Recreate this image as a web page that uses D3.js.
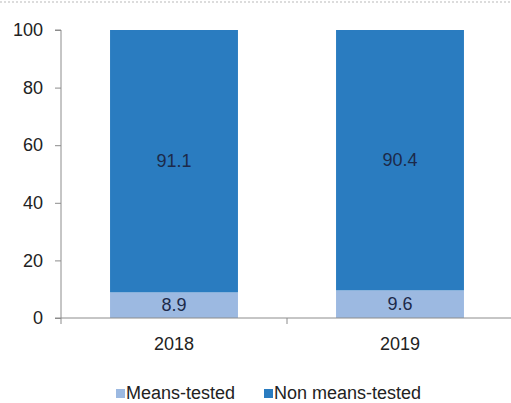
<!DOCTYPE html>
<html>
<head>
<meta charset="utf-8">
<script src="https://cdn.jsdelivr.net/npm/d3@7"></script>
<style>
  html, body { margin: 0; padding: 0; background: #ffffff; }
  svg { display: block; font-family: "Liberation Sans", Arial, sans-serif; }
</style>
</head>
<body>
<svg id="chart" width="511" height="403"></svg>
<script>
// Share of benefits by type, percent
const years = ["2018", "2019"];
const meansTested = [8.9, 9.6];
const nonMeansTested = [91.1, 90.4];
const yTicks = [0, 20, 40, 60, 80, 100];
const seriesNames = ["Means-tested", "Non means-tested"];
const seriesColors = ["#9cb9e1", "#2a7cc0"];

const svg = d3.select("#chart");
const margin = { left: 61, right: -2, top: 30, bottom: 85 };
const W = 511, H = 403;
const FS = 18;

const x = d3.scaleBand().domain(years).range([margin.left, W - margin.right])
  .paddingInner(0.434).paddingOuter(0.217);
const y = d3.scaleLinear().domain([0, 100]).range([H - margin.bottom, margin.top]);

// faint dotted rule along the top edge
svg.append("line").attr("x1", 0).attr("x2", W).attr("y1", 2).attr("y2", 2)
  .attr("stroke", "#dcdcdc").attr("stroke-width", 2).attr("stroke-dasharray", "2,2");

const rows = years.map((yr, i) => ({ year: yr, values: [meansTested[i], nonMeansTested[i]] }));
const stack = d3.stack().keys([0, 1]).value((d, k) => d.values[k]);
const layers = stack(rows);

layers.forEach((layer, k) => {
  svg.append("g").selectAll("rect").data(layer).join("rect")
    .attr("x", d => x(d.data.year))
    .attr("width", x.bandwidth())
    .attr("y", d => y(d[1]))
    .attr("height", d => y(d[0]) - y(d[1]))
    .attr("fill", seriesColors[k]);
  svg.append("g").selectAll("text").data(layer).join("text")
    .attr("x", d => x(d.data.year) + x.bandwidth() / 2)
    .attr("y", d => y((d[0] + d[1]) / 2))
    .attr("dy", "0.35em")
    .attr("text-anchor", "middle")
    .attr("font-size", FS)
    .attr("fill", "#1c2a4a")
    .text(d => d3.format(".1f")(d[1] - d[0]));
});

// y axis
const yAxis = svg.append("g").attr("transform", `translate(${margin.left},0)`)
  .call(d3.axisLeft(y).tickValues(yTicks).tickSize(6).tickPadding(12));
yAxis.select(".domain").attr("stroke", "#8c8c8c").attr("d", `M-6,${y(100)}H0V${y(0)}`);
yAxis.selectAll(".tick line").attr("stroke", "#8c8c8c");
yAxis.selectAll(".tick text").attr("font-size", FS).attr("fill", "#222")
  .attr("font-family", "'Liberation Sans', Arial, sans-serif");

// x axis with category boundary ticks
const xAxisG = svg.append("g").attr("transform", `translate(0,${y(0)})`);
xAxisG.append("line").attr("x1", margin.left - 6).attr("x2", W)
  .attr("stroke", "#8c8c8c");
const step = x.step();
const boundaries = [margin.left, margin.left + step];
xAxisG.selectAll("line.tk").data(boundaries).join("line").attr("class", "tk")
  .attr("x1", d => d).attr("x2", d => d).attr("y1", 0).attr("y2", 6)
  .attr("stroke", "#8c8c8c");
xAxisG.selectAll("text").data(years).join("text")
  .attr("x", d => x(d) + x.bandwidth() / 2)
  .attr("y", 32)
  .attr("text-anchor", "middle")
  .attr("font-size", FS)
  .attr("fill", "#222")
  .text(d => d);

// legend
const legendX = [116, 264];
const legend = svg.append("g").selectAll("g").data(seriesNames).join("g")
  .attr("transform", (d, i) => `translate(${legendX[i]},389)`);
legend.append("rect").attr("x", 0).attr("y", 0).attr("width", 9).attr("height", 9)
  .attr("fill", (d, i) => seriesColors[i]);
legend.append("text").attr("x", 10).attr("y", 9.5)
  .attr("font-size", FS).attr("fill", "#222").text(d => d);
</script>
</body>
</html>
